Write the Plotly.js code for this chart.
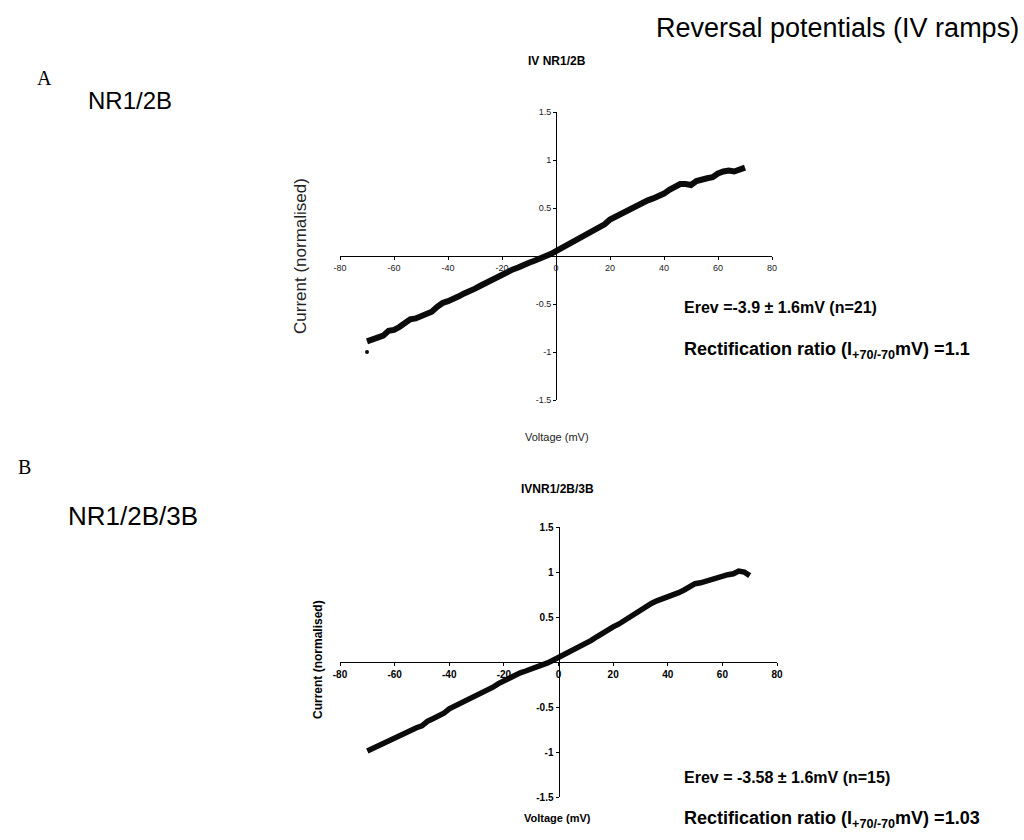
<!DOCTYPE html>
<html>
<head>
<meta charset="utf-8">
<script src="https://cdn.plot.ly/plotly-3.0.1.min.js"></script>
<style>html,body{margin:0;padding:0;background:#fff;}#chart{width:1024px;height:840px;}</style>
</head>
<body>
<div id="chart"></div>
<script>
// ---- Data ----
const voltage = [-70,-68,-66,-64,-62,-60,-58,-56,-54,-52,-50,-48,-46,-44,-42,-40,-38,-36,-34,-32,-30,-28,-26,-24,-22,-20,-18,-16,-14,-12,-10,-8,-6,-4,-2,0,2,4,6,8,10,12,14,16,18,20,22,24,26,28,30,32,34,36,38,40,42,44,46,48,50,52,54,56,58,60,62,64,66,68,70];
const currentA = [-0.89,-0.87,-0.85,-0.83,-0.78,-0.77,-0.74,-0.70,-0.66,-0.65,-0.63,-0.60,-0.58,-0.53,-0.49,-0.47,-0.45,-0.42,-0.39,-0.37,-0.34,-0.31,-0.28,-0.25,-0.22,-0.20,-0.17,-0.14,-0.12,-0.09,-0.07,-0.05,-0.03,0.00,0.02,0.05,0.08,0.11,0.14,0.17,0.21,0.24,0.27,0.30,0.33,0.38,0.41,0.44,0.47,0.50,0.52,0.55,0.58,0.60,0.62,0.65,0.69,0.72,0.75,0.75,0.74,0.78,0.80,0.81,0.82,0.86,0.88,0.89,0.88,0.90,0.92];
const outlierV_A = [-70];
const outlierI_A = [-1.0];
const currentB = [-0.99,-0.96,-0.94,-0.91,-0.87,-0.84,-0.81,-0.78,-0.76,-0.73,-0.71,-0.66,-0.63,-0.60,-0.57,-0.52,-0.49,-0.47,-0.43,-0.40,-0.37,-0.34,-0.31,-0.28,-0.24,-0.21,-0.18,-0.14,-0.12,-0.10,-0.08,-0.06,-0.04,-0.01,0.02,0.05,0.08,0.11,0.14,0.18,0.21,0.24,0.28,0.32,0.36,0.39,0.42,0.46,0.50,0.53,0.57,0.61,0.65,0.68,0.70,0.73,0.75,0.77,0.80,0.84,0.87,0.88,0.90,0.92,0.94,0.95,0.97,0.98,1.01,1.00,0.96];
const xTicks = [-80,-60,-40,-20,0,20,40,60,80];
const yTicks = [-1.5,-1,-0.5,0.5,1,1.5];
const yTickText = ['-1.5','-1','-0.5','0.5','1','1.5'];

// ---- Layout helpers ----
const W = 1024, H = 840;
const px = x => x / W;
const py = y => 1 - y / H;
const FONT = 'Liberation Sans, Arial, sans-serif';

const domA = {x:[px(340), px(772)], y:[py(400), py(112)]};
const domB = {x:[px(340), px(777)], y:[py(797), py(527)]};
const mid = a => (a[0] + a[1]) / 2;

function xAxis(dom, tf, tlen){
  return {domain: dom.x, range:[-80,80], anchor:'free', position: mid(dom.y),
    showline:true, linecolor:'#000', linewidth:1.3, ticks:'outside', ticklen:tlen, tickcolor:'#000',
    tickvals: xTicks, ticktext: xTicks.map(String), tickfont: tf,
    showgrid:false, zeroline:false, fixedrange:true};
}
function yAxis(dom, tf, tlen){
  return {domain: dom.y, range:[-1.5,1.5], anchor:'free', position: mid(dom.x),
    showline:true, linecolor:'#000', linewidth:1.3, ticks:'outside', ticklen:tlen, tickcolor:'#000',
    tickvals: yTicks, ticktext: yTickText, tickfont: tf,
    showgrid:false, zeroline:false, fixedrange:true};
}

const tfA = {family: FONT, size: 9, color:'#222'};
const tfB = {family: FONT, size: 10, color:'#000', weight:'bold'};

const traces = [
  {x: voltage, y: currentA, xaxis:'x', yaxis:'y', mode:'lines',
   line:{color:'#0b0b0b', width:6}, showlegend:false, hoverinfo:'skip'},
  {x: outlierV_A, y: outlierI_A, xaxis:'x', yaxis:'y', mode:'markers',
   marker:{color:'#0b0b0b', size:4}, showlegend:false, hoverinfo:'skip'},
  {x: voltage, y: currentB, xaxis:'x2', yaxis:'y2', mode:'lines',
   line:{color:'#0b0b0b', width:5.5}, showlegend:false, hoverinfo:'skip'}
];

function ann(text, x, y, size, opts){
  return Object.assign({text: text, x: px(x), y: py(y), xref:'paper', yref:'paper',
    showarrow:false, xanchor:'left', yanchor:'middle',
    font:{family: FONT, size: size, color:'#000'}}, opts || {});
}
const bold = (s, c) => ({family: FONT, size: s, color: c || '#000', weight:'bold'});
const serif = {family:'Liberation Serif, Times New Roman, serif', size:20, color:'#000'};

const annotations = [
  ann('Reversal potentials (IV ramps)', 1021, 28, 27, {xanchor:'right'}),
  ann('A', 35, 78, 20, {font: serif}),
  ann('NR1/2B', 86, 100, 24),
  ann('B', 16, 467, 20, {font: serif}),
  ann('NR1/2B/3B', 66, 516, 26),
  // chart titles
  ann('IV NR1/2B', 557, 61, 12, {xanchor:'center', font: bold(12)}),
  ann('IVNR1/2B/3B', 557, 489, 12, {xanchor:'center', font: bold(12)}),
  // axis titles
  ann('Current (normalised)', 300, 256, 17, {xanchor:'center', textangle:-90, font:{family:FONT, size:17, color:'#222'}}),
  ann('Voltage (mV)', 557, 437, 11, {xanchor:'center', font:{family:FONT, size:11, color:'#222'}}),
  ann('Current (normalised)', 318, 660, 12, {xanchor:'center', textangle:-90, font: bold(12)}),
  ann('Voltage (mV)', 557, 818, 11, {xanchor:'center', font: bold(11)}),
  // statistics
  ann('Erev =-3.9 ± 1.6mV (n=21)', 682, 307, 16, {font: bold(16)}),
  ann('Rectification ratio (I<sub>+70/-70</sub>mV) =1.1', 682, 350, 18, {font: bold(18)}),
  ann('Erev = -3.58 ± 1.6mV (n=15)', 682, 777, 16, {font: bold(16)}),
  ann('Rectification ratio (I<sub>+70/-70</sub>mV) =1.03', 682, 819, 18, {font: bold(18)})
];

const layout = {
  width: W, height: H,
  margin:{l:0, r:0, t:0, b:0},
  paper_bgcolor:'#fff', plot_bgcolor:'rgba(0,0,0,0)',
  showlegend:false,
  xaxis: xAxis(domA, tfA, 3),
  yaxis: yAxis(domA, tfA, 3),
  xaxis2: xAxis(domB, tfB, 3),
  yaxis2: yAxis(domB, tfB, 3),
  annotations: annotations
};

Plotly.newPlot('chart', traces, layout, {displayModeBar:false, staticPlot:true});
</script>
</body>
</html>
